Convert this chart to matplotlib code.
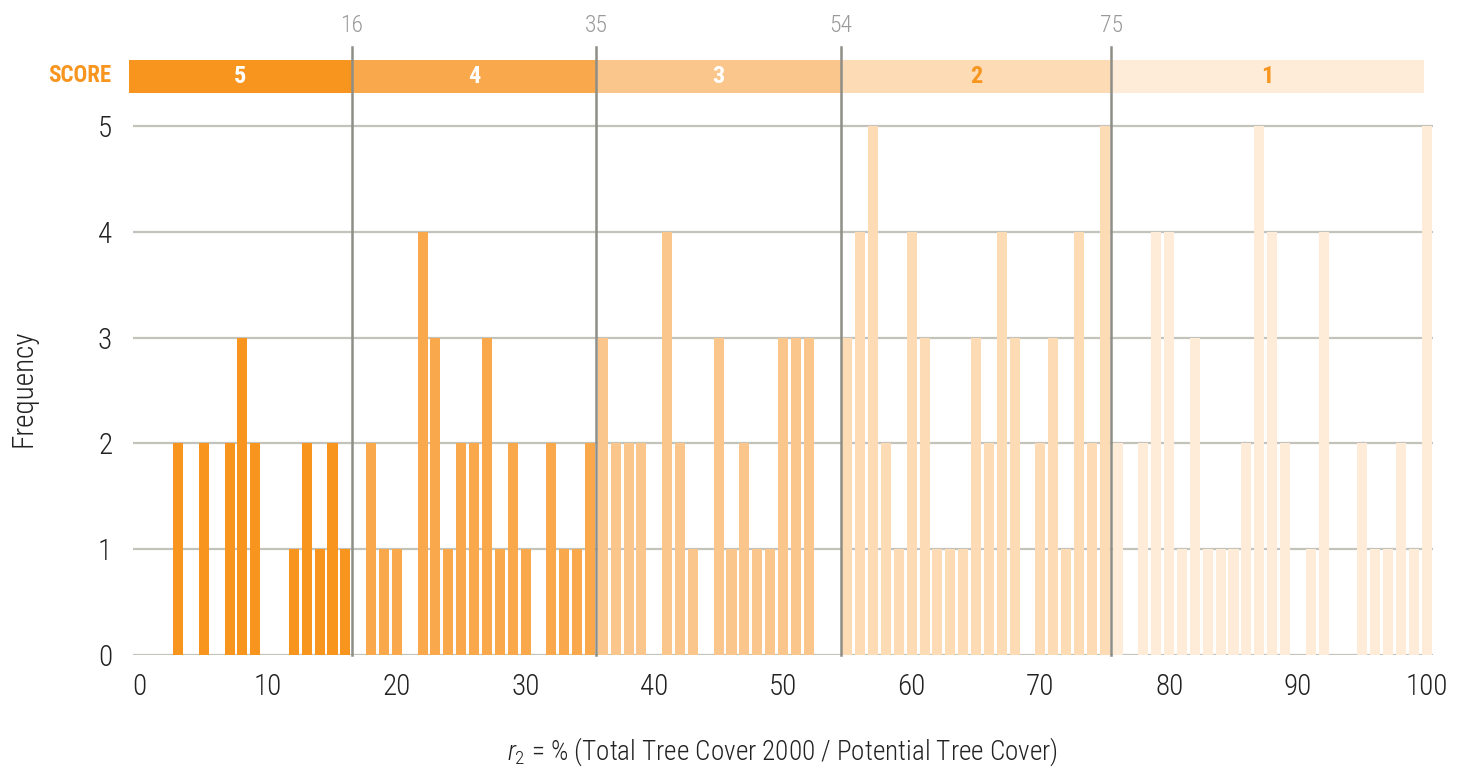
import matplotlib
matplotlib.use("Agg")
import matplotlib.pyplot as plt
from matplotlib import font_manager
from matplotlib.transforms import blended_transform_factory
from matplotlib.patches import Rectangle


def pick(names):
    for n in names:
        try:
            font_manager.findfont(n, fallback_to_default=False)
            return n
        except Exception:
            pass
    return "DejaVu Sans"


FONT = pick(["Roboto Condensed", "Liberation Sans Narrow", "Liberation Sans"])
plt.rcParams["font.family"] = [FONT, "DejaVu Sans"]
plt.rcParams["mathtext.fontset"] = "custom"
plt.rcParams["mathtext.it"] = FONT + ":italic:light"
plt.rcParams["mathtext.rm"] = FONT + ":light"

# ---------------- data ----------------
score5_x = [3, 5, 7, 8, 9, 12, 13, 14, 15, 16]
score5_y = [2, 2, 2, 3, 2, 1, 2, 1, 2, 1]
score4_x = [18, 19, 20, 22, 23, 24, 25, 26, 27, 28, 29, 30, 32, 33, 34, 35]
score4_y = [2, 1, 1, 4, 3, 1, 2, 2, 3, 1, 2, 1, 2, 1, 1, 2]
score3_x = [36, 37, 38, 39, 41, 42, 43, 45, 46, 47, 48, 49, 50, 51, 52]
score3_y = [3, 2, 2, 2, 4, 2, 1, 3, 1, 2, 1, 1, 3, 3, 3]
score2_x = [55, 56, 57, 58, 59, 60, 61, 62, 63, 64, 65, 66, 67, 68,
            70, 71, 72, 73, 74, 75]
score2_y = [3, 4, 5, 2, 1, 4, 3, 1, 1, 1, 3, 2, 4, 3, 2, 3, 1, 4, 2, 5]
score1_x = [76, 78, 79, 80, 81, 82, 83, 84, 85, 86, 87, 88, 89, 91, 92,
            95, 96, 97, 98, 99, 100]
score1_y = [2, 2, 4, 4, 1, 3, 1, 1, 1, 2, 5, 4, 2, 1, 4, 2, 1, 1, 2, 1, 5]

thresholds = [16, 35, 54, 75]
scores = [5, 4, 3, 2, 1]
x_ticks = [0, 10, 20, 30, 40, 50, 60, 70, 80, 90, 100]
y_ticks = [0, 1, 2, 3, 4, 5]

# ---------------- style ----------------
colors = ["#F7951F", "#F9A84B", "#FBC68B", "#FDDBB5", "#FEEBD8"]
score_text_colors = ["white", "white", "white", "#F7951F", "#F7951F"]
grid_color = "#C3C3BC"
line_color = "#8E8E86"
text_color = "#222222"

W, H = 1462, 773
fig = plt.figure(figsize=(W / 100, H / 100), dpi=100)
ax_left, ax_right = 133, 1433
ax_top, ax_bottom = 120.7, 655
ax = fig.add_axes([ax_left / W, (H - ax_bottom) / H,
                   (ax_right - ax_left) / W, (ax_bottom - ax_top) / H])

series = [(score5_x, score5_y), (score4_x, score4_y), (score3_x, score3_y),
          (score2_x, score2_y), (score1_x, score1_y)]
for (xs, ys), c in zip(series, colors):
    ax.bar(xs, ys, width=0.78, color=c, zorder=3)

ax.set_xlim(-0.5, 100.5)
ax.set_ylim(0, 5.05)
ax.set_yticks(y_ticks)
ax.set_xticks(x_ticks)
ax.grid(axis="y", color=grid_color, linewidth=1.6, zorder=1)
ax.set_axisbelow(True)
for s in ax.spines.values():
    s.set_visible(False)
ax.tick_params(axis="both", length=0, labelsize=21, colors=text_color)
ax.tick_params(axis="x", pad=13)
ax.tick_params(axis="y", pad=15)
for lab in ax.get_xticklabels() + ax.get_yticklabels():
    lab.set_fontweight("light")

ax.set_ylabel("Frequency", fontsize=21, color=text_color, fontweight="light",
              va="center")
ax.yaxis.set_label_coords((24 - ax_left) / (ax_right - ax_left), 0.5)
ax.set_xlabel(r"$r_{2}$ = % (Total Tree Cover 2000 / Potential Tree Cover)",
              fontsize=19.5, color=text_color, fontweight="light", va="center")
ax.xaxis.set_label_coords(0.5, (ax_bottom - 752) / (ax_bottom - ax_top))

# ---------------- score band ----------------
trans = blended_transform_factory(ax.transData, ax.transAxes)
ah = ax_bottom - ax_top
band_bot = (ax_bottom - 93.3) / ah
band_top = (ax_bottom - 60) / ah
band_left, band_right = -0.81, 99.8
edges = [band_left] + [t + 0.5 for t in thresholds] + [band_right]
for i, sc in enumerate(scores):
    x0, x1 = edges[i], edges[i + 1]
    ax.add_patch(Rectangle((x0, band_bot), x1 - x0, band_top - band_bot,
                           transform=trans, color=colors[i], clip_on=False,
                           zorder=4, linewidth=0))
    ax.text((x0 + x1) / 2, (band_bot + band_top) / 2, str(sc), transform=trans,
            ha="center", va="center", fontsize=17.5, fontweight="bold",
            color=score_text_colors[i], zorder=6)

line_top = (ax_bottom - 46.7) / ah
label_y = (ax_bottom - 25) / ah
for t in thresholds:
    ax.plot([t + 0.5, t + 0.5], [0, line_top], transform=trans, color=line_color,
            linewidth=1.8, clip_on=False, zorder=5)
    ax.text(t + 0.5, label_y, str(t), transform=trans, ha="center",
            va="center", fontsize=17, color="#9A9A9A", fontweight="light")

fig.text(80 / W, (H - 75) / H, "SCORE", ha="center", va="center",
         fontsize=16.5, fontweight="bold", color="#F7951F")

fig.savefig("out.png", dpi=100)
